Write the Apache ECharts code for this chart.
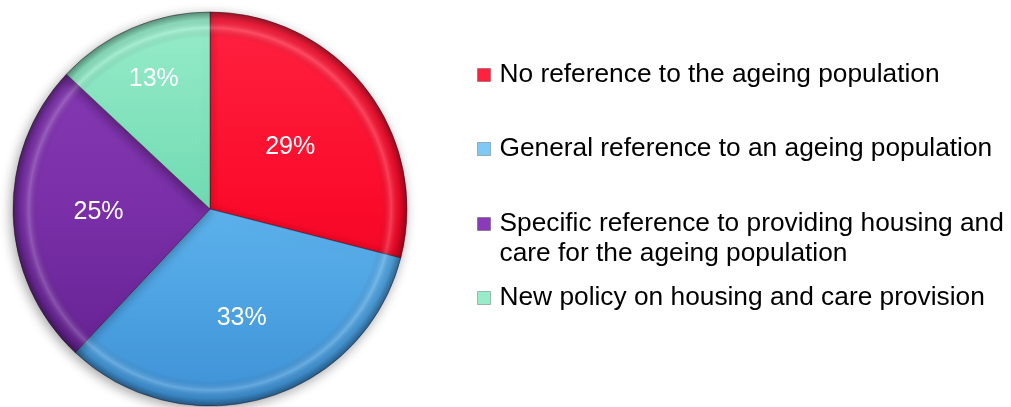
<!DOCTYPE html>
<html>
<head>
<meta charset="utf-8">
<script src="https://cdn.jsdelivr.net/npm/echarts@6/dist/echarts.min.js"></script>
<style>
  html, body { margin: 0; padding: 0; background: #ffffff; }
  #chart { width: 1011px; height: 407px; }
</style>
</head>
<body>
<div id="chart"></div>
<script>
// Share of plans by how they address the ageing population (%)
const categories = [
  'No reference to the ageing population',
  'General reference to an ageing population',
  'Specific reference to providing housing and\ncare for the ageing population',
  'New policy on housing and care provision'
];
const shares = [29, 33, 25, 13];

// Slice colours: [light, base, dark]
const sliceColors = [
  ['#ff2240', '#fb0a2a', '#dc001f'],
  ['#80c9f5', '#5cb2ec', '#3d91d6'],
  ['#8a3cb8', '#7a2fa8', '#5f1f8c'],
  ['#98ecca', '#70dbb2', '#4cc496']
];

const CX = 210, CY = 209, R = 197;
const FONT = '"Liberation Sans", Arial, sans-serif';

// radial outward push for each percentage label (px)
const labelPush = [0, 12, 10, 40];

const chart = echarts.init(document.getElementById('chart'), null, { renderer: 'canvas' });

function sliceFill(c) {
  return {
    type: 'linear', x: 0, y: CY - R, x2: 0, y2: CY + R, global: true,
    colorStops: [
      { offset: 0, color: c[0] },
      { offset: 0.5, color: c[1] },
      { offset: 1, color: c[2] }
    ]
  };
}

const rimFill = {
  type: 'radial', x: CX, y: CY, r: R, global: true,
  colorStops: [
    { offset: 0, color: 'rgba(0,0,0,0)' },
    { offset: 0.87, color: 'rgba(0,0,0,0)' },
    { offset: 0.92, color: 'rgba(255,255,255,0.2)' },
    { offset: 0.96, color: 'rgba(0,0,0,0.08)' },
    { offset: 1, color: 'rgba(0,0,0,0.4)' }
  ]
};

const pieData = categories.map((name, i) => ({
  name: name,
  value: shares[i],
  itemStyle: { color: sliceFill(sliceColors[i]) }
}));

// one legend block per category so that each row sits at its own height
const legendTops = [60, 134, 179, 283];
const legends = categories.map((name, i) => {
  const multiLine = name.indexOf('\n') >= 0;
  return {
    data: [name],
    orient: 'vertical',
    left: 477,
    top: legendTops[i],
    padding: 0,
    icon: 'rect',
    itemWidth: 13,
    itemHeight: 13,
    selectedMode: false,
    itemStyle: { borderColor: 'rgba(0,0,0,0.25)', borderWidth: 1 },
    // a leading blank line keeps the marker level with the first text line
    formatter: multiLine ? (n => '\n' + n) : (n => n),
    textStyle: {
      fontSize: 26.3,
      lineHeight: 30,
      fontFamily: FONT,
      color: '#000000',
      padding: [0, 0, 0, 4]
    }
  };
});

chart.setOption({
  backgroundColor: '#ffffff',
  animation: false,
  legend: legends,
  series: [
    {
      type: 'pie',
      center: [CX, CY],
      radius: R,
      startAngle: 90,
      clockwise: true,
      data: pieData,
      itemStyle: {
        borderColor: 'rgba(40,20,40,0.45)',
        borderWidth: 1,
        shadowBlur: 12,
        shadowColor: 'rgba(0,0,0,0.35)',
        shadowOffsetX: -2,
        shadowOffsetY: 3
      },
      label: {
        show: true,
        position: 'inside',
        formatter: '{c}%',
        color: '#ffffff',
        fontSize: 25,
        fontFamily: FONT
      },
      labelLayout: function (p) {
        const r = p.labelRect;
        const lx = r.x + r.width / 2, ly = r.y + r.height / 2;
        const dx = lx - CX, dy = ly - CY;
        const d = Math.sqrt(dx * dx + dy * dy) || 1;
        const push = labelPush[p.dataIndex];
        return { dx: dx / d * push, dy: dy / d * push };
      },
      labelLine: { show: false },
      emphasis: { disabled: true }
    },
    {
      // bevelled rim overlay
      type: 'pie',
      center: [CX, CY],
      radius: R,
      startAngle: 90,
      clockwise: true,
      silent: true,
      z: 3,
      data: categories.map((name, i) => ({ name: name, value: shares[i] })),
      itemStyle: { color: rimFill, borderWidth: 0 },
      label: { show: false },
      labelLine: { show: false },
      emphasis: { disabled: true }
    }
  ]
});
</script>
</body>
</html>
